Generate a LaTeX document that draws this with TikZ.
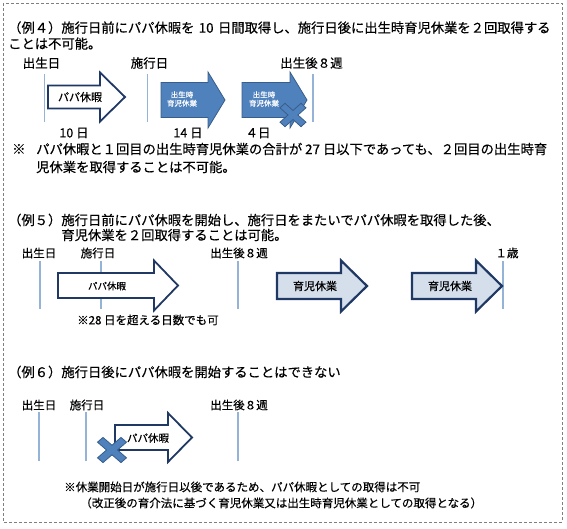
\documentclass[tikz,border=0pt]{standalone}
\usepackage{fontspec}
\setmainfont{Noto Sans CJK JP}[UprightFeatures={FakeBold=0.35}]
\usetikzlibrary{positioning}
\definecolor{tickblue}{HTML}{95B3D7}
\definecolor{fillblue}{HTML}{4F81BD}
\definecolor{edgeblue}{HTML}{385D8A}
\definecolor{navy}{HTML}{1F3864}
\definecolor{paleblue}{HTML}{D5DFEC}
\definecolor{framegray}{HTML}{7F7F7F}

\begin{document}
\begin{tikzpicture}[
      x=1pt, y=-1pt,
      txt/.style={inner sep=0pt, anchor=west, align=left,
                  font=\fontsize{13.3}{16}\selectfont},
      small/.style={inner sep=0pt, anchor=west, align=left,
                    font=\fontsize{11.5}{16}\selectfont},
      lbl/.style={inner sep=0pt, font=\fontsize{12.5}{14}\selectfont},
      lblsmall/.style={inner sep=0pt, font=\fontsize{11.5}{13}\selectfont},
      tick/.style={tickblue, line width=1.5pt},
      papa/.style={draw=navy, fill=white, line width=1.8pt, line join=miter},
      birth/.style={draw=edgeblue, fill=fillblue, line width=0.8pt},
      ikuji/.style={draw=navy, fill=paleblue, line width=2.2pt, line join=miter},
      cross/.style={draw=edgeblue, fill=fillblue, line width=0.8pt},
      intxt/.style={inner sep=0pt, font=\fontsize{#1}{#1}\selectfont},
      intxt/.default=11,
    ]
    \useasboundingbox (0,0) rectangle (567,528);
    \draw[framegray, line width=0.9pt, dash pattern=on 3pt off 2pt] (3,3) rectangle (562,522);

    % --- example 4
    \node[txt, text width=560pt] (t4) at (8,35.5)
      {（例４）施行日前にパパ休暇を 10 日間取得し、施行日後に出生時育児休業を２回取得する\\ことは不可能。};
    \node[lbl] (b4) at (41.5,63) {出生日};
    \node[lbl] (s4) at (149.5,63) {施行日};
    \node[lbl] (w4) at (311.5,63) {出生後８週};
    \draw[tick] (44.5,74) -- (44.5,122);
    \draw[tick] (147.5,74) -- (147.5,122);
    \draw[tick] (313,74) -- (313,122);

    \draw[papa] (48,85.5) -- (100,85.5) -- (100,72.5) -- (125,97) -- (100,121.5) -- (100,108.5) -- (48,108.5) -- cycle;
    \draw[birth] (161,82.5) -- (208,82.5) -- (208,72) -- (225,100) -- (208,128) -- (208,117.5) -- (161,117.5) -- cycle;
    \draw[birth] (242,82.5) -- (290,82.5) -- (290,72) -- (307,100) -- (290,128) -- (290,117.5) -- (242,117.5) -- cycle;
    \node[intxt] (p4) at (80,97) {パパ休暇};
    \node[intxt=7.5, text=white, align=center] (c1) at (182,99) {出生時\\[1pt]育児休業};
    \node[intxt=7.5, text=white, align=center] (c2) at (264,99) {出生時\\[1pt]育児休業};
    \draw[cross, shift={(293,115)}, yscale=0.9]
      (0,-5) -- (8,-13) -- (13,-8) -- (5,0) -- (13,8) -- (8,13) -- (0,5)
      -- (-8,13) -- (-13,8) -- (-5,0) -- (-13,-8) -- (-8,-13) -- cycle;
    \node[lbl] (d10) at (74,133) {10 日};
    \node[lbl] (d14) at (188,133) {14 日};
    \node[lbl] (d4) at (258,133) {４日};

    \node[txt] (m4) at (12,149) {※};
    \node[txt] (n4) at (36,158)
      {パパ休暇と１回目の出生時育児休業の合計が 27 日以下であっても、２回目の出生時育\\[2pt]児休業を取得することは不可能。};

    % --- example 5
    \node[txt, font=\fontsize{13.3}{15}\selectfont] (t5) at (8,227.5)
      {（例５）施行日前にパパ休暇を開始し、施行日をまたいでパパ休暇を取得した後、\\\phantom{（例５）}育児休業を２回取得することは可能。};
    \node[lblsmall] (b5) at (39,253) {出生日};
    \node[lblsmall] (s5) at (98,253) {施行日};
    \node[lblsmall] (w5) at (239,253) {出生後８週};
    \node[lblsmall] (y5) at (507,253) {１歳};
    \draw[tick] (40,261) -- (40,309);
    \draw[tick] (101,261) -- (101,309);
    \draw[tick] (238,261) -- (238,309);
    \draw[tick] (503,261) -- (503,309);

    \draw[papa] (58,273) -- (154,273) -- (154,260.5) -- (178,285.5) -- (154,310.5) -- (154,298) -- (58,298) -- cycle;
    \draw[ikuji] (277,273) -- (341,273) -- (341,260.5) -- (367,286) -- (341,311.5) -- (341,299) -- (277,299) -- cycle;
    \draw[ikuji] (412,273) -- (476,273) -- (476,260.5) -- (502,286) -- (476,311.5) -- (476,299) -- (412,299) -- cycle;
    \node[intxt=9.5] (p5) at (107,286) {パパ休暇};
    \node[intxt] (k1) at (315,286) {育児休業};
    \node[intxt] (k2) at (450,286) {育児休業};
    \node[small] (n5) at (77,320) {※28 日を超える日数でも可};

    % --- example 6
    \node[txt] (t6) at (8,372) {（例６）施行日後にパパ休暇を開始することはできない};
    \node[lblsmall] (b6) at (39,405) {出生日};
    \node[lblsmall] (s6) at (87,405) {施行日};
    \node[lblsmall] (w6) at (239,405) {出生後８週};
    \draw[tick] (39,412) -- (39,461);
    \draw[tick] (86,412) -- (86,461);
    \draw[tick] (238,412) -- (238,461);

    \draw[papa] (115,425) -- (168,425) -- (168,413) -- (192,437.5) -- (168,462) -- (168,450) -- (115,450) -- cycle;
    \node[intxt=10.5] (p6) at (148,438) {パパ休暇};
    \draw[cross, shift={(112,450)}, yscale=0.87]
      (0,-5.5) -- (9,-14.5) -- (14.5,-9) -- (5.5,0) -- (14.5,9) -- (9,14.5) -- (0,5.5)
      -- (-9,14.5) -- (-14.5,9) -- (-5.5,0) -- (-14.5,-9) -- (-9,-14.5) -- cycle;

    \node[small] (n6) at (64,495)
      {※休業開始日が施行日以後であるため、パパ休暇としての取得は不可\\\hspace*{1.4em}（改正後の育介法に基づく育児休業又は出生時育児休業としての取得となる）};
  \end{tikzpicture}
\end{document}
